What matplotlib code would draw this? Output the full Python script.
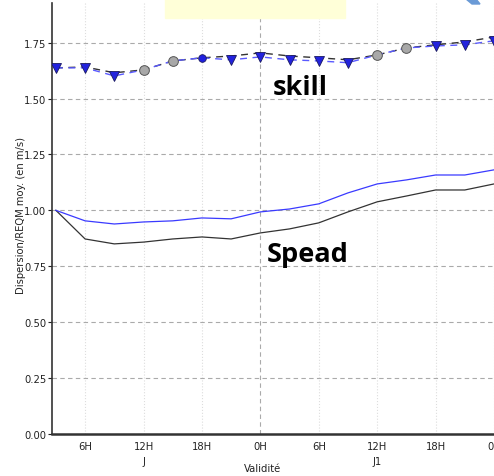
import matplotlib.pyplot as plt
from matplotlib.patches import Rectangle, Polygon

# échéances (heures) et scores
echeances = [3, 6, 9, 12, 15, 18, 21, 24, 27, 30, 33, 36, 39, 42, 45, 48]
skill_ref = [1.637, 1.641, 1.615, 1.628, 1.668, 1.682, 1.690, 1.704,
             1.690, 1.682, 1.673, 1.695, 1.726, 1.740, 1.753, 1.775]
skill_exp = [1.637, 1.637, 1.601, 1.628, 1.668, 1.682, 1.673, 1.686,
             1.673, 1.668, 1.660, 1.695, 1.726, 1.735, 1.740, 1.758]
spread_ref = [1.000, 0.872, 0.850, 0.858, 0.872, 0.881, 0.872, 0.899,
              0.917, 0.944, 0.993, 1.038, 1.064, 1.091, 1.091, 1.118]
spread_exp = [1.000, 0.953, 0.939, 0.948, 0.953, 0.966, 0.962, 0.993,
              1.006, 1.029, 1.078, 1.118, 1.136, 1.158, 1.158, 1.181]
# significativité de l'écart : 'v' = significatif, 'o' = faible, '' = non
signif = ['v', 'v', 'v', '', '', 'o', 'v', 'v',
          'v', 'v', 'v', '', '', 'v', 'v', 'v']

xticks = [6, 12, 18, 24, 30, 36, 42, 48]
xticklabels = ['6H', '12H', '18H', '0H', '6H', '12H', '18H', '0H']
jours = [(12, 'J'), (36, 'J1')]

fs = 7.2

fig = plt.figure(figsize=(4.94, 4.77), dpi=100)
ax = fig.add_axes([52 / 494, 42 / 477, 442 / 494, 431 / 477])

# courbes de skill (tirets) et de spread (traits pleins)
ax.plot(echeances, skill_ref, ls=(0, (5, 4)), color='#333333', lw=1, zorder=3)
ax.plot(echeances, skill_exp, ls=(0, (5, 4)), color='#5a5aff', lw=1, zorder=3)
ax.plot(echeances, spread_ref, color='#333333', lw=0.9, zorder=3)
ax.plot(echeances, spread_exp, color='#3a3aff', lw=0.9, zorder=3)

for x, yr, ye, s in zip(echeances, skill_ref, skill_exp, signif):
    if s == 'v':
        ax.plot(x, ye, 'v', ms=7, color='#2222dd', mec='#1a1a60', mew=0.6, zorder=4)
    elif s == 'o':
        ax.plot(x, yr, 'o', ms=5.5, color='#1f1fe0', mec='#1a1a60', mew=0.6, zorder=4)
    else:
        ax.plot(x, yr, 'o', ms=7, color='#a8a8a8', mec='#555555', mew=0.7, zorder=4)

ax.set_xlim(2.6, 48)
ax.set_ylim(0, 1.927)
ax.set_yticks([0, 0.25, 0.5, 0.75, 1.0, 1.25, 1.5, 1.75])
ax.set_yticklabels(['0.00', '0.25', '0.50', '0.75', '1.00', '1.25', '1.50', '1.75'])
ax.set_xticks(xticks)
ax.set_xticklabels(xticklabels)
ax.tick_params(labelsize=fs, colors='#222222', length=3, pad=1)
ax.tick_params(axis='x', length=0, pad=5)

ax.grid(axis='y', ls=(0, (4, 3)), color='#aaaaaa', lw=0.8)
for x in xticks:
    if x == 24:
        ax.axvline(x, ls=(0, (4, 3)), color='#aaaaaa', lw=0.8, zorder=1)
    else:
        ax.axvline(x, ls=':', color='#dddddd', lw=0.8, zorder=1)

for side in ['top', 'right']:
    ax.spines[side].set_visible(False)
for side in ['left', 'bottom']:
    ax.spines[side].set_color('#333333')
ax.spines['left'].set_linewidth(1.2)
ax.spines['bottom'].set_linewidth(1.8)

for x, lab in jours:
    ax.text(x, -0.12, lab, ha='center', va='center', fontsize=fs, color='#222222')
fig.text(263 / 494, 1 - 469 / 477, 'Validité', ha='center', va='center',
         fontsize=fs, color='#222222')
fig.text(21 / 494, 1 - 216 / 477, 'Dispersion/REQM moy. (en m/s)', rotation=90,
         ha='center', va='center', fontsize=fs, color='#222222')

ax.text(28.1, 1.552, 'skill', fontsize=19.5, fontweight='bold', family='Open Sans',
        ha='center', va='center')
ax.text(28.9, 0.805, 'Spead', fontsize=19.5, fontweight='bold', family='Open Sans',
        ha='center', va='center')

# bandeau de légende et flèche en haut de la figure
fig.patches.append(Rectangle((165 / 494, 458 / 477), 180 / 494, 19 / 477,
                             transform=fig.transFigure, color='#ffffd8', zorder=5))
fig.patches.append(Polygon([(466 / 494, 1.0), (476 / 494, 1.0), (480 / 494, 472 / 477),
                            (472 / 494, 472 / 477)], closed=True,
                           transform=fig.transFigure, color='#6a9ad6', zorder=5))

fig.savefig('out.png', dpi=100)
